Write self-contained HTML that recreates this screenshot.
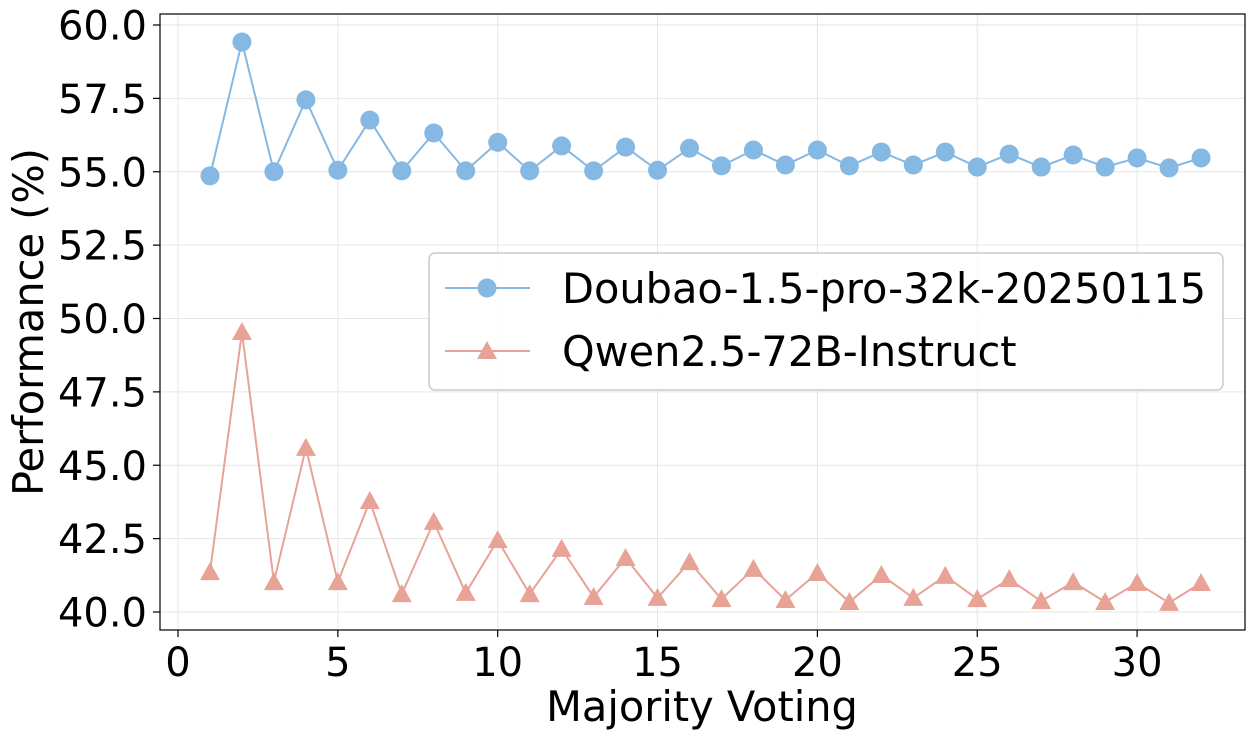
<!DOCTYPE html>
<html><head><meta charset="utf-8"><style>
html,body{margin:0;padding:0;background:#fff;}
svg text{font-family:"DejaVu Sans","Liberation Sans",sans-serif;fill:#000;}
</style></head><body>
<svg id="chart" width="1255" height="739" xmlns="http://www.w3.org/2000/svg">
<g id="grid"></g>
<g id="series"></g>
<rect x="160" y="14" width="1085" height="616" fill="none" stroke="#000" stroke-width="1.2"/>
<g id="ticks"></g>
<text x="702" y="721" font-size="41.5" text-anchor="middle">Majority Voting</text>
<text transform="translate(43,322) rotate(-90)" font-size="41.5" text-anchor="middle">Performance (%)</text>
<g>
<rect x="429" y="253" width="794" height="137" rx="6" fill="#fff" fill-opacity="0.85" stroke="#ccc" stroke-width="1.5"/>
<g>
<line x1="445" y1="288" x2="530" y2="288" stroke="#85b8e3" stroke-width="2"/>
<circle cx="487" cy="288" r="9.5" fill="#85b8e3"/>
<text x="562" y="303" font-size="41.5">Doubao-1.5-pro-32k-20250115</text></g>
<g>
<line x1="445" y1="351" x2="530" y2="351" stroke="#e8a396" stroke-width="2"/>
<polygon points="487,341 497,359 477,359" fill="#e8a396"/>
<text x="562" y="366" font-size="41.5">Qwen2.5-72B-Instruct</text></g>
</g>
</svg>
<script>
const xValues = [1,2,3,4,5,6,7,8,9,10,11,12,13,14,15,16,17,18,19,20,21,22,23,24,25,26,27,28,29,30,31,32];
const doubaoValues = [54.86,59.42,55.0,57.45,55.05,56.76,55.03,56.32,55.03,56.0,55.03,55.88,55.03,55.84,55.05,55.8,55.2,55.74,55.23,55.74,55.2,55.67,55.23,55.67,55.16,55.6,55.16,55.57,55.16,55.47,55.13,55.47];
const qwenValues = [41.36,49.54,41.02,45.59,41.02,43.78,40.61,43.07,40.65,42.45,40.61,42.15,40.51,41.84,40.48,41.7,40.44,41.47,40.41,41.33,40.34,41.26,40.48,41.23,40.44,41.12,40.37,41.02,40.34,40.99,40.31,40.99];
const xTicks = [0,5,10,15,20,25,30];
const yTicks = [40.0,42.5,45.0,47.5,50.0,52.5,55.0,57.5,60.0];

const NS="http://www.w3.org/2000/svg";
function X(v){return 178 + v*31.97;}
function Y(v){return 612 - (v-40)*29.35;}
function mk(tag,attrs,parent){const e=document.createElementNS(NS,tag);for(const k in attrs)e.setAttribute(k,attrs[k]);parent.appendChild(e);return e;}
const grid=document.getElementById('grid'), ticks=document.getElementById('ticks'), series=document.getElementById('series');
xTicks.forEach(t=>{
  const gl=mk('line',{x1:X(t),x2:X(t),y1:14,y2:630,stroke:'#e6e6e6','stroke-width':1},grid);
  
  
  const tk=mk('line',{x1:X(t),x2:X(t),y1:630,y2:637,stroke:'#000','stroke-width':1.2},ticks);
  
  
  const tx=mk('text',{x:X(t),y:676,'font-size':40,'text-anchor':'middle'},ticks);
  tx.textContent=String(t);
  
  
});
yTicks.forEach(t=>{
  const gl=mk('line',{x1:160,x2:1245,y1:Y(t),y2:Y(t),stroke:'#e6e6e6','stroke-width':1},grid);
  
  
  const tk=mk('line',{x1:153,x2:160,y1:Y(t),y2:Y(t),stroke:'#000','stroke-width':1.2},ticks);
  
  
  const tx=mk('text',{x:147,y:Y(t)+14.5,'font-size':40,'text-anchor':'end'},ticks);
  tx.textContent=t.toFixed(1);
  
  
});
function draw(vals,color,shape,name){
  const pl=mk('polyline',{points:vals.map((v,i)=>X(xValues[i])+','+Y(v)).join(' '),fill:'none',stroke:color,'stroke-width':2},series);
  
  
  vals.forEach((v,i)=>{
    const cx=X(xValues[i]), cy=Y(v);
    let m;
    if(shape==='circle') m=mk('circle',{cx:cx,cy:cy,r:9.5,fill:color},series);
    else m=mk('polygon',{points:`${cx},${cy-10} ${cx+10},${cy+8} ${cx-10},${cy+8}`,fill:color},series);
    
    
  });
}
draw(doubaoValues,'#85b8e3','circle','doubao');
draw(qwenValues,'#e8a396','triangle','qwen');
</script>
</body></html>
